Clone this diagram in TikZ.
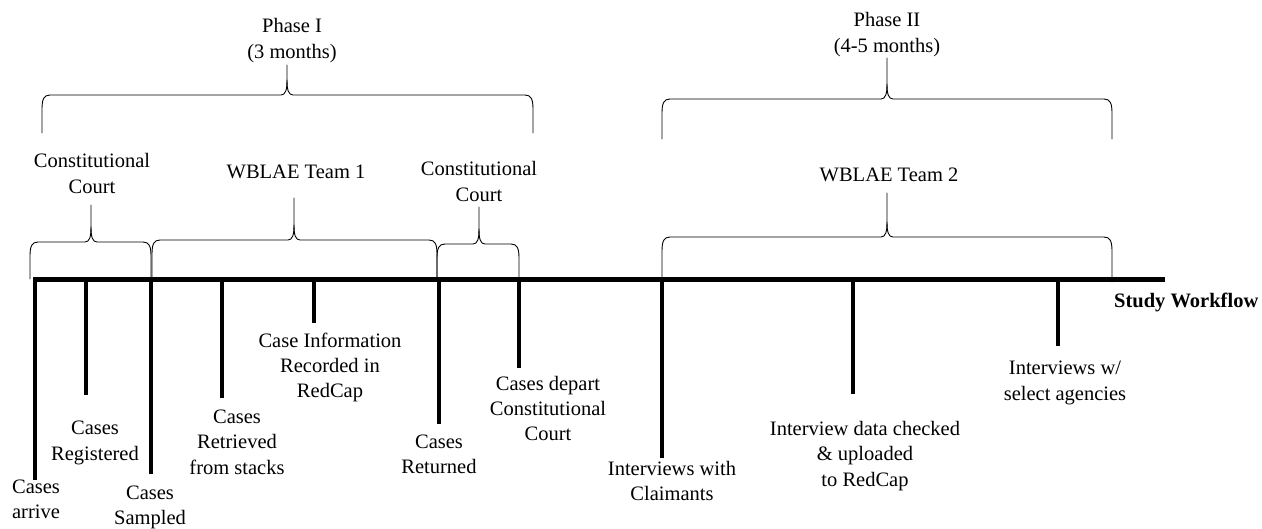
\documentclass[tikz,border=0pt]{standalone}
\usepackage{fontspec}
\setmainfont{Liberation Serif}
\newcommand\mybrace[6]{%
  \draw[bracln] (#1,#4) -- (#1,{#5+14}) .. controls (#1,{#5+4}) and ({#1+2},#5) .. ({#1+8},#5)
    -- ({#3-6},#5) .. controls ({#3-1.5},#5) and (#3,{#5-5}) .. (#3,{#5-15}) -- (#3,#6);
  \draw[bracln] (#2,#4) -- (#2,{#5+14}) .. controls (#2,{#5+4}) and ({#2-2},#5) .. ({#2-8},#5)
    -- ({#3+6},#5) .. controls ({#3+1.5},#5) and (#3,{#5-5}) .. (#3,{#5-15});
}
\begin{document}
\begin{tikzpicture}[x=1pt,y=-1pt,
  lab/.style={font=\fontsize{20.5}{25.5}\selectfont, align=center, anchor=base, inner sep=0pt},
  tickln/.style={line width=4.5pt},
  axisln/.style={line width=4.5pt},
  bracln/.style={line width=0.9pt, line cap=round, line join=round}]
\useasboundingbox (0,0) rectangle (1262,529);

% main axis
\coordinate (axL) at (33,279.5);
\coordinate (axR) at (1165,279.5);
\draw[axisln] (axL) -- (axR);

% ticks
\foreach \n/\x/\y in {t1/35/480, t2/86/395, t3/151/474, t4/222/398, t5/314/323,
                      t6/439/424, t7/519/368, t8/662/458, t9/853/394, t10/1058/346}{
  \coordinate (\n a) at (\x,279.5);
  \coordinate (\n b) at (\x,\y);
  \draw[tickln] (\n a) -- (\n b);
}

% braces
\mybrace{42}{533}{287}{133}{95}{65}
\mybrace{662}{1112}{887}{139}{99}{58}
\mybrace{30}{151}{91}{279}{242}{205}
\mybrace{152}{437}{294}{279}{240}{198}
\mybrace{437}{519}{479}{279}{244}{207}
\mybrace{662}{1112}{887}{282}{237}{193}

% upper labels (y = baseline of last line)
\node[lab] (ph1) at (292,58.5) {Phase I\\(3 months)};
\node[lab] (ph2) at (887,52.5) {Phase II\\(4-5 months)};
\node[lab] (cc1) at (92,193.5) {Constitutional\\Court};
\node[lab] (tm1) at (296,179) {WBLAE Team 1};
\node[lab] (cc2) at (479,201.5) {Constitutional\\Court};
\node[lab] (tm2) at (889,182) {WBLAE Team 2};

% lower labels
\node[lab] (l1) at (36,518.5) {Cases\\arrive};
\node[lab] (l2) at (95,460.5) {Cases\\Registered};
\node[lab] (l3) at (150,524.5) {Cases\\Sampled};
\node[lab] (l4) at (237,474) {Cases\\Retrieved\\from stacks};
\node[lab] (l5) at (330,398) {Case Information\\Recorded in\\RedCap};
\node[lab] (l6) at (439,473.5) {Cases\\Returned};
\node[lab] (l7) at (548,441) {Cases depart\\Constitutional\\Court};
\node[lab] (l8) at (672,500.5) {Interviews with\\Claimants};
\node[lab] (l9) at (865,486) {Interview data checked\\\& uploaded\\to RedCap};
\node[lab] (l10) at (1065,400.5) {Interviews w/\\select agencies};
\node[lab, anchor=base west, font=\fontsize{20.5}{25.5}\selectfont\bfseries] (sw) at (1114,308) {Study Workflow};
\end{tikzpicture}
\end{document}
